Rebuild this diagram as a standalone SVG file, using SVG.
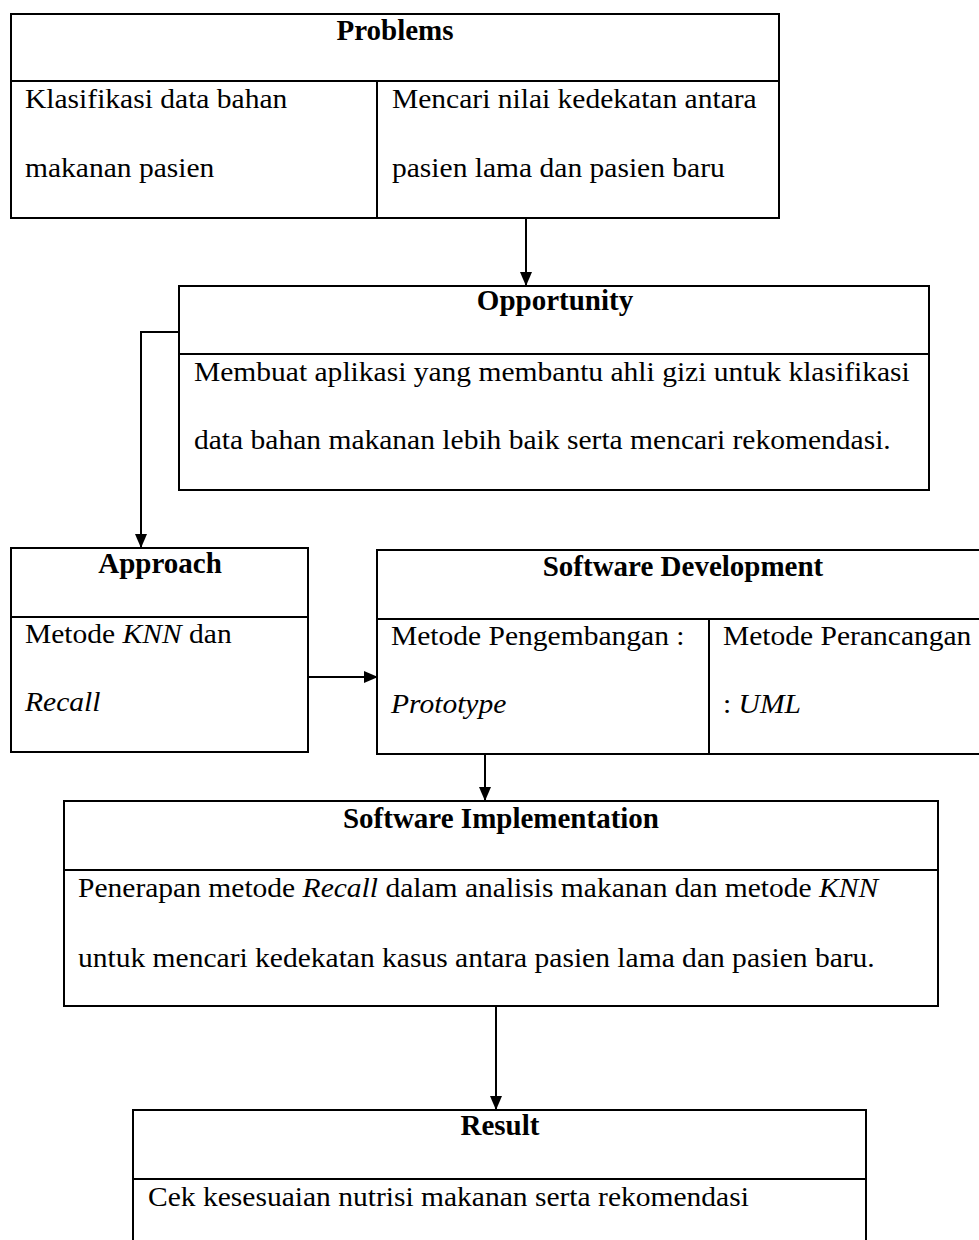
<svg xmlns="http://www.w3.org/2000/svg" width="979" height="1240" viewBox="0 0 979 1240">
<defs>
<marker id="ah" markerUnits="userSpaceOnUse" markerWidth="14" markerHeight="12" refX="13" refY="6" orient="auto">
<path d="M0,0 L14,6 L0,12 z" fill="#000"/>
</marker>
<style>
.box{fill:#fff;stroke:#000;stroke-width:2}
.ln{stroke:#000;stroke-width:2;fill:none}
.t{font-family:"Liberation Serif","Times New Roman",serif;font-size:29px;font-weight:bold;fill:#000;text-anchor:middle}
.b{font-family:"Liberation Serif","Times New Roman",serif;font-size:27px;fill:#000}
.i{font-style:italic}
.con{stroke:#000;stroke-width:2;fill:none;marker-end:url(#ah)}
</style>
</defs>
<rect width="979" height="1240" fill="#fff"/>

<g id="problems">
<rect class="box" x="11" y="14" width="768" height="204"/>
<line class="ln" x1="11" y1="81" x2="779" y2="81"/>
<line class="ln" x1="377" y1="81" x2="377" y2="218"/>
<text class="t" x="395" y="40">Problems</text>
<text class="b" transform="translate(25,108) scale(1.094,1)">Klasifikasi data bahan</text>
<text class="b" transform="translate(25,177) scale(1.094,1)">makanan pasien</text>
<text class="b" transform="translate(392,108) scale(1.094,1)">Mencari nilai kedekatan antara</text>
<text class="b" transform="translate(392,177) scale(1.094,1)">pasien lama dan pasien baru</text>
</g>

<g id="opportunity">
<rect class="box" x="179" y="286" width="750" height="204"/>
<line class="ln" x1="179" y1="354" x2="929" y2="354"/>
<text class="t" x="555" y="310">Opportunity</text>
<text class="b" transform="translate(194,381) scale(1.094,1)">Membuat aplikasi yang membantu ahli gizi untuk klasifikasi</text>
<text class="b" transform="translate(194,449) scale(1.094,1)">data bahan makanan lebih baik serta mencari rekomendasi.</text>
</g>

<g id="approach">
<rect class="box" x="11" y="548" width="297" height="204"/>
<line class="ln" x1="11" y1="617" x2="308" y2="617"/>
<text class="t" x="160" y="573">Approach</text>
<text class="b" transform="translate(25,643) scale(1.094,1)">Metode <tspan class="i">KNN</tspan> dan</text>
<text class="b" transform="translate(25,711) scale(1.094,1)"><tspan class="i">Recall</tspan></text>
</g>

<g id="software-development">
<rect class="box" x="377" y="550" width="615" height="204"/>
<line class="ln" x1="377" y1="619" x2="992" y2="619"/>
<line class="ln" x1="709" y1="619" x2="709" y2="754"/>
<text class="t" x="683" y="576">Software Development</text>
<text class="b" transform="translate(391,645) scale(1.094,1)">Metode Pengembangan :</text>
<text class="b" transform="translate(391,713) scale(1.094,1)"><tspan class="i">Prototype</tspan></text>
<text class="b" transform="translate(723,645) scale(1.094,1)">Metode Perancangan</text>
<text class="b" transform="translate(723,713) scale(1.094,1)">: <tspan class="i">UML</tspan></text>
</g>

<g id="software-implementation">
<rect class="box" x="64" y="801" width="874" height="205"/>
<line class="ln" x1="64" y1="870" x2="938" y2="870"/>
<text class="t" x="501" y="828">Software Implementation</text>
<text class="b" transform="translate(78,897) scale(1.094,1)">Penerapan metode <tspan class="i">Recall</tspan> dalam analisis makanan dan metode <tspan class="i">KNN</tspan></text>
<text class="b" transform="translate(78,967) scale(1.094,1)">untuk mencari kedekatan kasus antara pasien lama dan pasien baru.</text>
</g>

<g id="result">
<rect class="box" x="133" y="1110" width="733" height="150"/>
<line class="ln" x1="133" y1="1179" x2="866" y2="1179"/>
<text class="t" x="500" y="1135">Result</text>
<text class="b" transform="translate(148,1206) scale(1.094,1)">Cek kesesuaian nutrisi makanan serta rekomendasi</text>
</g>

<g id="connectors">
<line class="con" x1="526" y1="219" x2="526" y2="285"/>
<polyline class="con" points="179,332 141,332 141,547"/>
<line class="con" x1="308" y1="677" x2="377" y2="677"/>
<line class="con" x1="485" y1="755" x2="485" y2="800"/>
<line class="con" x1="496" y1="1007" x2="496" y2="1109"/>
</g>
</svg>
